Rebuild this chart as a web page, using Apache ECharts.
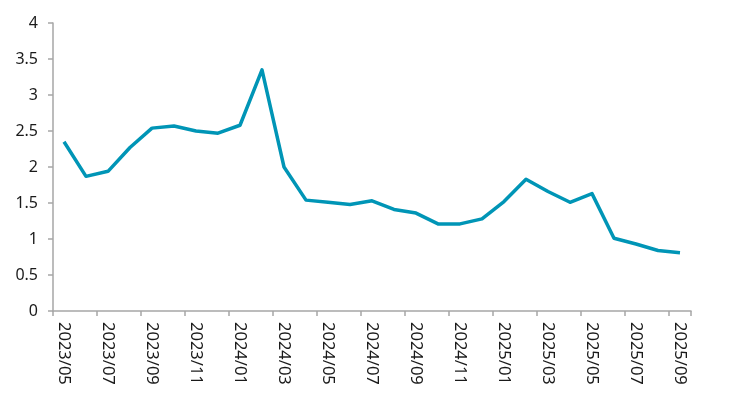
<!DOCTYPE html>
<html>
<head>
<meta charset="utf-8">
<script src="https://cdn.jsdelivr.net/npm/echarts@6/dist/echarts.min.js"></script>
<style>html,body{margin:0;padding:0;background:#fff;}#c{width:750px;height:402px;}</style>
</head>
<body>
<div id="c"></div>
<script>
const categories = ["2023/05","2023/06","2023/07","2023/08","2023/09","2023/10","2023/11","2023/12",
"2024/01","2024/02","2024/03","2024/04","2024/05","2024/06","2024/07","2024/08","2024/09","2024/10","2024/11","2024/12",
"2025/01","2025/02","2025/03","2025/04","2025/05","2025/06","2025/07","2025/08","2025/09"];
const values = [2.35,1.87,1.94,2.27,2.54,2.57,2.50,2.47,2.58,3.35,2.00,1.54,1.51,1.48,1.53,1.41,1.36,1.21,1.21,1.28,1.52,1.83,1.66,1.51,1.63,1.01,0.93,0.84,0.81];

const chart = echarts.init(document.getElementById('c'));
const font = "'Noto Sans', 'Open Sans', sans-serif";
chart.setOption({
  animation: false,
  grid: {left: 53, right: 59, top: 23, bottom: 91, containLabel: false},
  xAxis: {
    type: 'category',
    data: categories,
    boundaryGap: true,
    axisLine: {lineStyle: {color: '#a6a6a6', width: 1.5}},
    axisTick: {show: true, interval: 1, length: 5, lineStyle: {color: '#a6a6a6', width: 1.5}},
    axisLabel: {interval: 1, rotate: -90, margin: 11, color: '#1a1a1a', fontSize: 16.5, fontFamily: font}
  },
  yAxis: {
    type: 'value',
    min: 0, max: 4, interval: 0.5,
    splitLine: {show: false},
    axisLine: {show: true, lineStyle: {color: '#a6a6a6', width: 1.5}},
    axisTick: {show: true, length: 5, lineStyle: {color: '#a6a6a6', width: 1.5}},
    axisLabel: {color: '#1a1a1a', fontSize: 16, fontFamily: font, margin: 15}
  },
  series: [{
    type: 'line',
    data: values,
    symbol: 'none',
    lineStyle: {color: '#0095b6', width: 3.5, join: 'round'},
    itemStyle: {color: '#0095b6'}
  }]
});
</script>
</body>
</html>
